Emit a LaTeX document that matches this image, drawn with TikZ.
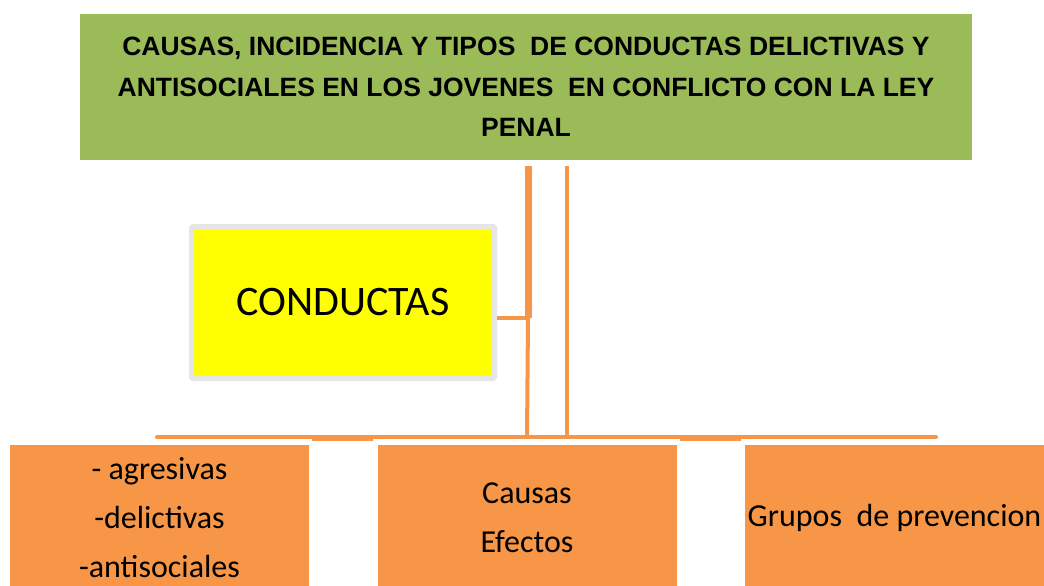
\documentclass[tikz,border=0pt]{standalone}
\usepackage{fontspec}
\setmainfont{Carlito}
\newfontfamily\titlefont{Liberation Sans}
\definecolor{titlegreen}{HTML}{9BBB59}
\definecolor{boxorange}{HTML}{F79646}
\definecolor{lineorange}{HTML}{F79646}
\definecolor{bordergray}{HTML}{E6E6E6}
\definecolor{conyellow}{HTML}{FFFF00}
\tikzset{
  titlebox/.style={fill=titlegreen, draw=none, inner sep=0pt, minimum width=892pt, minimum height=146pt, align=center,
    font=\titlefont\bfseries\fontsize{26.5}{40.5}\selectfont},
  conbox/.style={fill=conyellow, draw=bordergray, line width=5pt, rounded corners=1.5pt, inner sep=0pt,
    minimum width=303pt, minimum height=152pt, font=\fontsize{42}{50}\selectfont},
  subbox/.style={fill=boxorange, draw=none, inner sep=0pt, minimum width=299pt, minimum height=146pt, align=center,
    font=\fontsize{32}{49}\selectfont},
  conn/.style={draw=lineorange, line width=4pt},
  connthick/.style={draw=lineorange, line width=7pt},
}
\begin{document}
\begin{tikzpicture}[x=1pt,y=-1pt]
\clip (0,0) rectangle (1044,586);
\fill[white] (0,0) rectangle (1044,586);
\node[titlebox] (title) at (526,87) {CAUSAS, INCIDENCIA Y TIPOS\ \ DE CONDUCTAS DELICTIVAS Y\\ANTISOCIALES EN LOS JOVENES\ \ EN CONFLICTO CON LA LEY\\PENAL};
\node[conbox] (con) at (343,302.5) {CONDUCTAS};
\node[subbox] (b1) at (159.5,518) {- agresivas\\-delictivas\\-antisociales};
\node[subbox] (b2) at (527,518) {Causas\\Efectos};
\node[subbox] (b3) at (894.5,518) {Grupos\ \ de prevencion};
% connectors
\coordinate (t1) at (528,166);
\coordinate (j1) at (528,318);
\coordinate (t2) at (566.5,166);
\coordinate (barL) at (157,437);
\coordinate (barR) at (936,437);
\draw[connthick] (t1) -- (j1);
\draw[conn] (j1) -- (j1 -| con.east);
\draw[conn] (j1) -- (527,437);
\draw[conn] (t2) -- (566.5,437);
\draw[conn, line cap=round] (barL) -- (barR);
\draw[conn] (312,439) -- (373,439);
\draw[conn] (680,439) -- (741,439);
\end{tikzpicture}
\end{document}
